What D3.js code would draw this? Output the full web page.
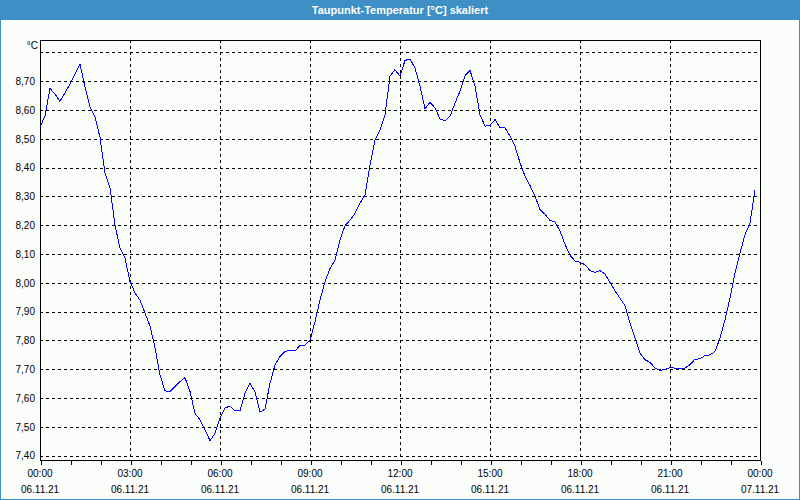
<!DOCTYPE html>
<html>
<head>
<meta charset="utf-8">
<script src="https://cdn.jsdelivr.net/npm/d3@7/dist/d3.min.js"></script>
<style>
  html, body { margin: 0; padding: 0; background: #ffffff; }
  svg { display: block; }
  text { font-family: "Liberation Sans", Arial, sans-serif; }
</style>
</head>
<body>
<svg id="chart" width="800" height="500"></svg>
<script>
// ---- Data ----
const titleText = "Taupunkt-Temperatur [°C] skaliert";
const unitLabel = "°C";
const startTime = "2021-11-06T00:00:00Z";
const endTime = "2021-11-07T00:00:00Z";
const stepMinutes = 10;
const dewPoint = [
  8.54, 8.58, 8.675, 8.655, 8.63, 8.66,
  8.69, 8.725, 8.76, 8.68, 8.61, 8.575,
  8.505, 8.38, 8.33, 8.20, 8.12, 8.085,
  8.005, 7.965, 7.94, 7.895, 7.85, 7.775,
  7.68, 7.625, 7.623, 7.64, 7.657, 7.671,
  7.623, 7.547, 7.524, 7.49, 7.452, 7.478,
  7.53, 7.565, 7.573, 7.556, 7.556, 7.617,
  7.651, 7.622, 7.551, 7.562, 7.651, 7.715,
  7.744, 7.761, 7.767, 7.764, 7.782, 7.784,
  7.80, 7.865, 7.94, 8.004, 8.05, 8.079,
  8.149, 8.198, 8.218, 8.241, 8.276, 8.305,
  8.409, 8.495, 8.53, 8.582, 8.718, 8.74,
  8.717, 8.772, 8.777, 8.746, 8.682, 8.604,
  8.627, 8.607, 8.569, 8.563, 8.578, 8.624,
  8.665, 8.719, 8.738, 8.682, 8.584, 8.544,
  8.546, 8.567, 8.538, 8.538, 8.509, 8.474,
  8.417, 8.37, 8.338, 8.301, 8.255, 8.238,
  8.217, 8.211, 8.18, 8.134, 8.096, 8.076,
  8.071, 8.063, 8.043, 8.036, 8.042, 8.031,
  8.001, 7.972, 7.947, 7.92, 7.86, 7.808,
  7.756, 7.733, 7.724, 7.704, 7.695, 7.70,
  7.706, 7.704, 7.703, 7.704, 7.716, 7.735,
  7.736, 7.748, 7.75, 7.762, 7.808, 7.872,
  7.947, 8.034, 8.103, 8.167, 8.207, 8.323
];
const yTickValues = [7.4, 7.5, 7.6, 7.7, 7.8, 7.9, 8.0, 8.1, 8.2, 8.3, 8.4, 8.5, 8.6, 8.7];
const yTickLabels = ["7,40","7,50","7,60","7,70","7,80","7,90","8,00","8,10","8,20","8,30","8,40","8,50","8,60","8,70"];
const yGridValues = [7.4, 7.5, 7.6, 7.7, 7.8, 7.9, 8.0, 8.1, 8.2, 8.3, 8.4, 8.5, 8.6, 8.7, 8.8];
const yDomain = [7.385, 8.843];
const xTimeLabels = ["00:00","03:00","06:00","09:00","12:00","15:00","18:00","21:00","00:00"];
const xDateLabels = ["06.11.21","06.11.21","06.11.21","06.11.21","06.11.21","06.11.21","06.11.21","06.11.21","07.11.21"];

// ---- Layout ----
const W = 800, H = 500;
const plot = { left: 40, right: 760, top: 40, bottom: 460 };
const svg = d3.select("#chart");

const t0 = new Date(startTime), t1 = new Date(endTime);
const series = dewPoint.map((v, i) => ({ t: new Date(t0.getTime() + i * stepMinutes * 60000), v }));
const majorTicks = d3.utcHour.every(3).range(t0, new Date(t1.getTime() + 1));
const minorTicks = d3.utcHour.every(1).range(t0, new Date(t1.getTime() + 1));

const x = d3.scaleUtc().domain([t0, t1]).range([plot.left, plot.right]);
const y = d3.scaleLinear().domain(yDomain).range([plot.bottom, plot.top]);

// background
svg.append("rect").attr("x", 0).attr("y", 0).attr("width", W).attr("height", H).attr("fill", "#fbfdfb");
// title bar
svg.append("rect").attr("x", 0).attr("y", 0).attr("width", W).attr("height", 20).attr("fill", "#3d8fc6");
svg.append("text").attr("x", W / 2).attr("y", 14).attr("text-anchor", "middle")
  .attr("fill", "#ffffff").attr("font-size", "11px").attr("font-weight", "bold").text(titleText);
// outer border
svg.append("rect").attr("x", 0.5).attr("y", 0.5).attr("width", W - 1).attr("height", H - 1)
  .attr("fill", "none").attr("stroke", "#3d8fc6").attr("stroke-width", 1);

// grid
const grid = svg.append("g").attr("stroke", "#000").attr("stroke-width", 1)
  .attr("stroke-dasharray", "3,3").attr("shape-rendering", "crispEdges");
grid.selectAll("line.h").data(yGridValues).join("line").attr("class", "h")
  .attr("x1", plot.left).attr("x2", plot.right)
  .attr("y1", d => Math.round(y(d)) + 0.5).attr("y2", d => Math.round(y(d)) + 0.5);
grid.selectAll("line.v").data(majorTicks.slice(1, -1)).join("line").attr("class", "v")
  .attr("y1", plot.top).attr("y2", plot.bottom)
  .attr("x1", d => Math.round(x(d)) + 0.5).attr("x2", d => Math.round(x(d)) + 0.5);

// frame
svg.append("rect").attr("x", plot.left + 0.5).attr("y", plot.top + 0.5)
  .attr("width", plot.right - plot.left).attr("height", plot.bottom - plot.top)
  .attr("fill", "none").attr("stroke", "#000").attr("stroke-width", 1).attr("shape-rendering", "crispEdges");

// x axis ticks (hourly)
const xAxis = d3.axisBottom(x).tickValues(minorTicks).tickSize(4).tickFormat("");
const gx = svg.append("g").attr("transform", `translate(0.5,${plot.bottom + 0.5})`).call(xAxis);
gx.select(".domain").remove();
gx.selectAll("line").attr("stroke", "#000").attr("shape-rendering", "crispEdges");

// x labels
const xl = svg.append("g").attr("font-size", "10px").attr("fill", "#000").attr("text-anchor", "middle");
xl.selectAll("text.time").data(majorTicks).join("text").attr("class", "time")
  .attr("x", d => x(d)).attr("y", 477).text((d, i) => xTimeLabels[i]);
xl.selectAll("text.date").data(majorTicks).join("text").attr("class", "date")
  .attr("x", d => x(d)).attr("y", 493).text((d, i) => xDateLabels[i]);

// y labels
const yAxis = d3.axisLeft(y).tickValues(yTickValues).tickSize(0).tickPadding(5)
  .tickFormat((d, i) => yTickLabels[i]);
const gy = svg.append("g").attr("transform", `translate(${plot.left},0)`).call(yAxis);
gy.select(".domain").remove();
gy.selectAll("text").attr("font-size", "10px").attr("fill", "#000")
  .attr("font-family", '"Liberation Sans", Arial, sans-serif');

svg.append("text").attr("x", 38).attr("y", 49).attr("text-anchor", "end")
  .attr("font-size", "10px").attr("fill", "#000").text(unitLabel);

// data line
const line = d3.line().x(d => x(d.t)).y(d => y(d.v));
svg.append("path").datum(series).attr("d", line).attr("fill", "none")
  .attr("stroke", "#0000ff").attr("stroke-width", 1).attr("shape-rendering", "crispEdges");
</script>
</body>
</html>
